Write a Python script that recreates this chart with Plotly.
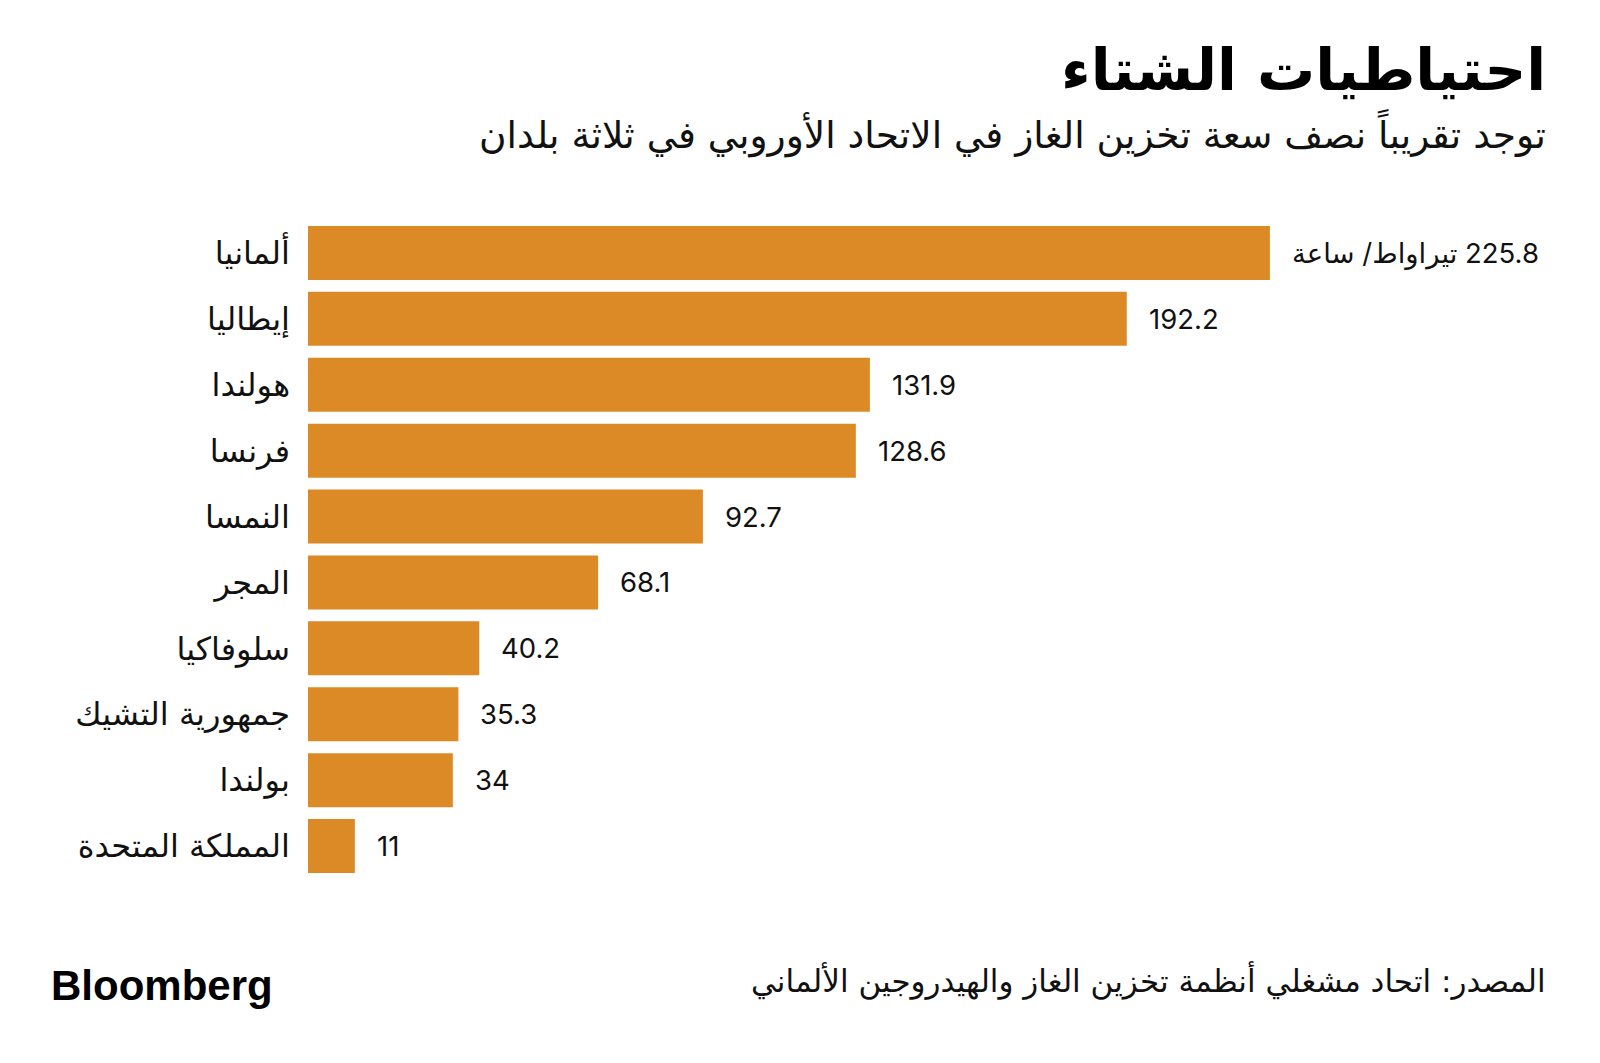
import plotly.graph_objects as go

countries = ["ألمانيا", "إيطاليا", "هولندا", "فرنسا", "النمسا", "المجر",
             "سلوفاكيا", "جمهورية التشيك", "بولندا", "المملكة المتحدة"]
values = [225.8, 192.2, 131.9, 128.6, 92.7, 68.1, 40.2, 35.3, 34, 11]
value_labels = ["تيراواط/ ساعة\u200E 225.8", "192.2", "131.9", "128.6", "92.7",
                "68.1", "40.2", "35.3", "34", "11"]

title = "احتياطيات الشتاء"
subtitle = "توجد تقريباً نصف سعة تخزين الغاز في الاتحاد الأوروبي في ثلاثة بلدان"
source = "المصدر: اتحاد مشغلي أنظمة تخزين الغاز والهيدروجين الألماني"

BAR = "#DB8A25"
ARFONT = "DejaVu Sans, Noto Sans, sans-serif"
NUMFONT = "Inter, DejaVu Sans, sans-serif"

W, H = 1600, 1063
L, R, T, B = 308, 227, 220, 184
PW, PH = W - L - R, H - T - B


def px(x):
    return (x - L) / PW


def py(y):
    return (H - B - y) / PH


fig = go.Figure()
fig.add_trace(go.Bar(
    x=values, y=countries, orientation="h",
    marker=dict(color=BAR, line=dict(width=0)),
    hoverinfo="skip",
))

for c, v, t in zip(countries, values, value_labels):
    fig.add_annotation(x=v, y=c, xref="x", yref="y", text=t, showarrow=False,
                       xanchor="left", yanchor="middle", xshift=20,
                       font=dict(family=NUMFONT, size=27.5, color="#111111"))

fig.add_annotation(x=px(1548), y=py(70), xref="paper", yref="paper", text=title,
                   showarrow=False, xanchor="right", yanchor="middle",
                   font=dict(family=ARFONT, size=58, color="#000000", weight="bold"))
fig.add_annotation(x=px(1548), y=py(134), xref="paper", yref="paper", text=subtitle,
                   showarrow=False, xanchor="right", yanchor="middle",
                   font=dict(family=ARFONT, size=37.5, color="#111111"))
fig.add_annotation(x=px(1548), y=py(980), xref="paper", yref="paper", text=source,
                   showarrow=False, xanchor="right", yanchor="middle",
                   font=dict(family=ARFONT, size=31, color="#111111"))
fig.add_annotation(x=px(49), y=py(985), xref="paper", yref="paper", text="Bloomberg",
                   showarrow=False, xanchor="left", yanchor="middle",
                   font=dict(family="Liberation Sans, Arial, sans-serif", size=42,
                             color="#000000", weight="bold"))

fig.update_layout(
    width=W, height=H,
    margin=dict(l=L, r=R, t=T, b=B, autoexpand=False),
    paper_bgcolor="white", plot_bgcolor="white",
    bargap=0.18,
    showlegend=False,
    xaxis=dict(range=[0, 250], visible=False, fixedrange=True),
    yaxis=dict(autorange="reversed", showgrid=False, zeroline=False, showline=False,
               ticks="", ticklabelstandoff=17, fixedrange=True,
               tickfont=dict(family=ARFONT, size=32, color="#111111")),
)

fig.write_html("out.html", config={"displayModeBar": False},
               post_script="document.body.style.margin='0';document.body.style.padding='0';")
